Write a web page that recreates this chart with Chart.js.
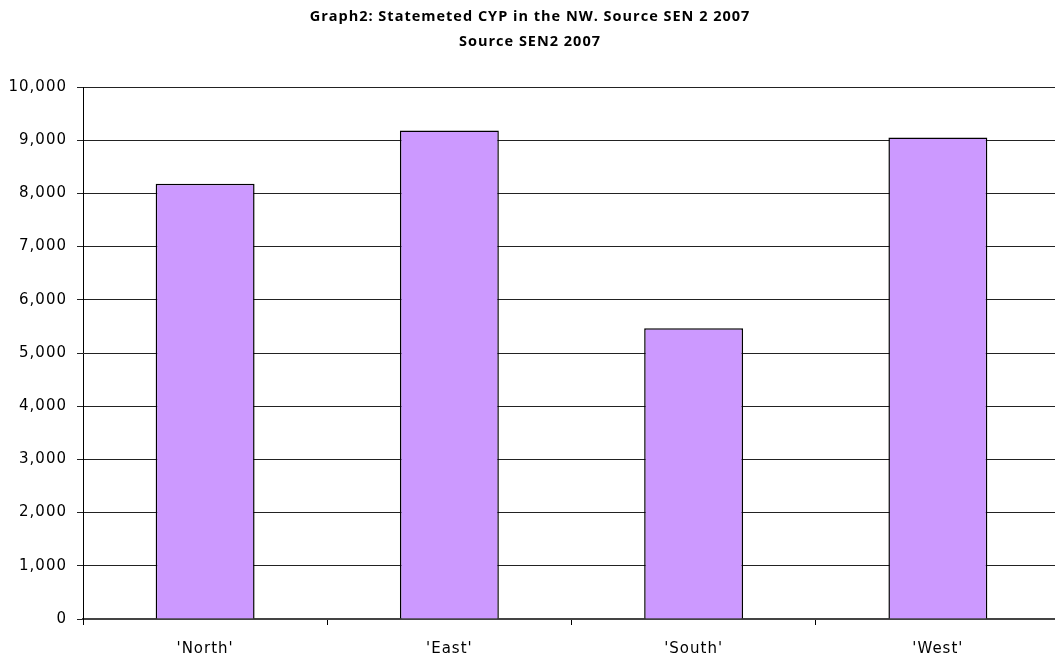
<!DOCTYPE html>
<html lang="en">
<head>
<meta charset="UTF-8">
<title>Graph2: Statemeted CYP in the NW</title>
<script src="https://cdn.jsdelivr.net/npm/chart.js@4"></script>
<style>
html,body{margin:0;padding:0;background:#fff;overflow:hidden}
#wrap{width:1068px;height:661px;position:relative}
</style>
</head>
<body>
<div id="wrap"><canvas id="chart"></canvas></div>
<script>
const TITLE_LINES=["Graph2: Statemeted CYP in the NW. Source SEN 2 2007","Source SEN2 2007"];
const AREAS=["'North'","'East'","'South'","'West'"];
const CYP=[8180,9180,5465,9050];
const Y_MIN=0,Y_MAX=10000,Y_STEP=1000;

const TITLE_FONT="'Open Sans','DejaVu Sans',sans-serif";
const TICK_FONT="'DejaVu Sans',sans-serif";

// the original text is drawn a little spread out
const spacing={id:"spacing",
  beforeLayout(c){c.ctx.letterSpacing="1px"},
  beforeDraw(c){c.ctx.letterSpacing="1px"}
};

new Chart(document.getElementById("chart"),{
  type:"bar",
  data:{labels:AREAS,datasets:[{
    data:CYP,backgroundColor:"#cc99ff",borderColor:"#000",borderWidth:1.5,
    categoryPercentage:1,barPercentage:0.405
  }]},
  plugins:[spacing],
  options:{
    responsive:true,maintainAspectRatio:false,animation:false,devicePixelRatio:1,
    layout:{padding:{left:0,right:8,top:0,bottom:0}},
    plugins:{
      legend:{display:false},tooltip:{enabled:false},
      title:{display:true,text:TITLE_LINES,color:"#000",
        font:{family:TITLE_FONT,size:14.5,weight:"bold",lineHeight:25/14.5},
        padding:{top:4.5,bottom:32.5}}
    },
    scales:{
      x:{
        grid:{offset:true,drawOnChartArea:false,drawTicks:true,tickLength:6,color:"#000"},
        border:{color:"#444",width:2},
        ticks:{color:"#000",font:{family:TICK_FONT,size:15},padding:15},
        afterFit:s=>{s.height=42}
      },
      y:{
        min:Y_MIN,max:Y_MAX,
        grid:{color:"#222",lineWidth:1,tickLength:6,drawTicks:true},
        border:{color:"#000",width:1},
        ticks:{stepSize:Y_STEP,color:"#000",font:{family:TICK_FONT,size:15},padding:10,
          callback:v=>v.toLocaleString("en-US")},
        afterFit:s=>{s.width=83}
      }
    }
  }
});
</script>
</body>
</html>
